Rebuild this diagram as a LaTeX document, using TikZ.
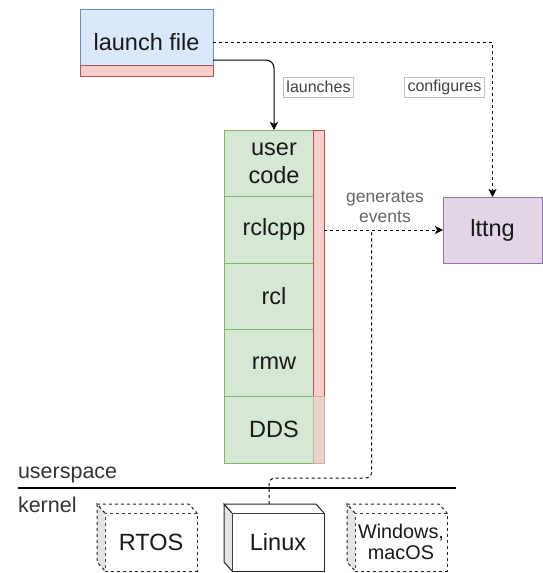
\documentclass[tikz,border=0pt]{standalone}
\usepackage{fontspec}
\setmainfont{Liberation Sans}
\usetikzlibrary{positioning,calc,arrows.meta}

\definecolor{bluefill}{HTML}{DAE8FC}
\definecolor{blueline}{HTML}{6C8EBF}
\definecolor{redfill}{HTML}{F8CECC}
\definecolor{redline}{HTML}{B85450}
\definecolor{greenfill}{HTML}{D5E8D4}
\definecolor{greenline}{HTML}{82B366}
\definecolor{purplefill}{HTML}{E1D5E7}
\definecolor{purpleline}{HTML}{9673A6}
\definecolor{ddsfill}{HTML}{E8D4C8}
\definecolor{sidefill}{HTML}{E4E4E4}

\begin{document}
\begin{tikzpicture}[x=1pt, y=-1pt, line width=1pt, font=\fontsize{23.5}{28}\selectfont,
	every node/.style={inner sep=0pt, outer sep=0pt, align=center, text=black!90},
	cell/.style={draw=greenline, fill=greenfill, minimum width=100pt, minimum height=66.6pt},
	bar/.style={draw=redline, fill=redfill, minimum width=11pt},
	cube/.style={draw=black!85, fill=white, minimum width=92pt, minimum height=58pt},
	tag/.style={draw=black!25, fill=white, inner xsep=3pt, minimum height=20pt, line width=.6pt,
		font=\fontsize{16}{19}\selectfont, text=black!75},
	link/.style={-{Stealth[length=8pt, width=8pt, inset=2pt]}},
	dots/.style={dash pattern=on 3pt off 3pt}]
	\useasboundingbox (0,0) rectangle (543,573);

	\node[draw=blueline, fill=bluefill, minimum width=133pt, minimum height=67pt, anchor=north west] (launch) at (80,9) {launch file};
	\node[draw=redline, fill=redfill, minimum width=133pt, minimum height=11pt, anchor=south west] (launchbar) at (launch.south west) {};

	\node[cell, anchor=north west] (user) at (224,130) {user\\code};
	\node[cell, below=0pt of user] (rclcpp) {rclcpp};
	\node[cell, below=0pt of rclcpp] (rcl) {rcl};
	\node[cell, below=0pt of rcl] (rmw) {rmw};
	\node[cell, below=0pt of rmw] (dds) {DDS};
	\node[bar, minimum height=266.4pt, anchor=north east] (strip) at (user.north east) {};
	\node[bar, fill=ddsfill, draw=redline!50, minimum height=66.6pt, anchor=north east] (ddsstrip) at (dds.north east) {};

	\node[draw=purpleline, fill=purplefill, minimum width=99pt, minimum height=66pt, anchor=north west] (lttng) at (443,197) {lttng};

	\node[cube, dots, anchor=north west] (rtos) at (105,513) {RTOS};
	\node[cube, anchor=north west] (linux) at (232,513) {Linux};
	\node[cube, dots, anchor=north west, font=\fontsize{19.8}{21}\selectfont] (win) at (355,513) {Windows,\\macOS};
	\foreach \n/\s in {rtos/dots, linux/solid, win/dots} {
		\draw[\s, draw=black!85, fill=sidefill] (\n.north west) -- ++(-8,-9) -- ([shift={(-8,-9)}]\n.south west) -- (\n.south west);
		\draw[\s, draw=black!85, fill=white] (\n.north west) -- ++(-8,-9) -- ([shift={(-8,-9)}]\n.north east) -- (\n.north east);
	}

	\draw[line width=2pt] (18,488) coordinate (sepl) -- (456,488) coordinate (sepr);
	\node[anchor=base west, font=\fontsize{21.5}{24}\selectfont, text=black!80] (userspace) at (18,478) {userspace};
	\node[anchor=base west, font=\fontsize{21.5}{24}\selectfont, text=black!80] (kernel) at (18,512) {kernel};

	\draw[link, rounded corners=8pt] ([yshift=16pt]launch.south east) -| (user.north);
	\draw[link, dots] (launch.east) -| (lttng.north);
	\draw[link, dots] (strip.east |- lttng.west) -- (lttng.west);
	\coordinate (join) at ($(strip.east |- lttng.west)!.4!(lttng.west)$);
	\draw[dots, rounded corners=6pt] ([shift={(-9,-9)}]linux.north) -- ++(0,-26) -| (join);

	\node[tag] (launches) at (318.5,87) {launches};
	\node[tag] (configures) at (444.5,87) {configures};
	\node[font=\fontsize{17.5}{20}\selectfont, text=black!60] (generates) at (385,207) {generates\\events};
\end{tikzpicture}
\end{document}
